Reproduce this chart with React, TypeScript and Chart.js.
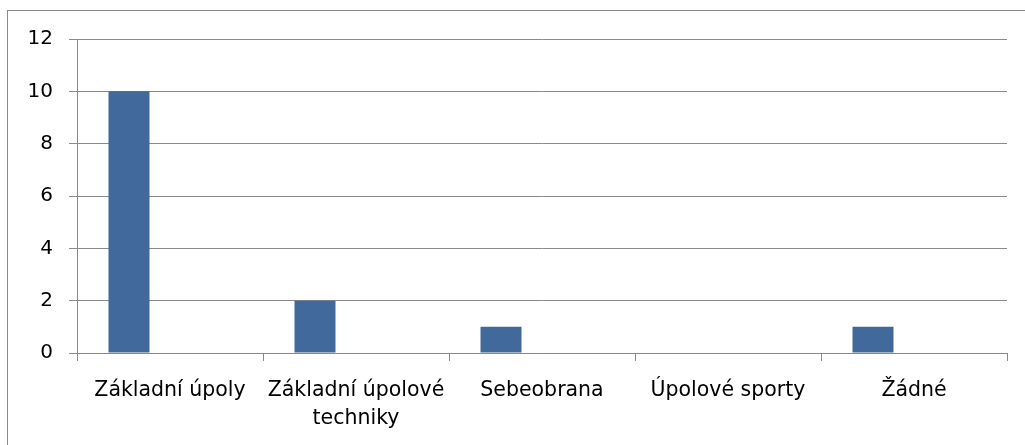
import { useEffect, useRef } from "react";
import { Chart, registerables } from "chart.js";

Chart.register(...registerables);

// Category labels along the x axis (second one wraps onto two lines)
const categories: (string | string[])[] = [
  "Základní úpoly",
  ["Základní úpolové", "techniky"],
  "Sebeobrana",
  "Úpolové sporty",
  "Žádné",
];

// Counts per category; the chart reserves three series slots, only the first is filled
const series1: number[] = [10, 2, 1, 0, 1];
const series2: (number | null)[] = [null, null, null, null, null];
const series3: (number | null)[] = [null, null, null, null, null];

// Value axis range
const yMin = 0;
const yMax = 12;
const yStep = 2;

const FONT = "'DejaVu Sans', 'Open Sans', sans-serif";
const BAR = "#41699c";
const GRID = "#8a8a8a";

// Thin grey frame around the whole chart object
const framePlugin = {
  id: "frame",
  beforeDraw(chart: Chart) {
    const ctx = chart.ctx;
    ctx.save();
    ctx.fillStyle = "#ffffff";
    ctx.fillRect(0, 0, chart.width, chart.height);
    ctx.strokeStyle = GRID;
    ctx.lineWidth = 1;
    ctx.strokeRect(7.5, 10.5, chart.width + 10, chart.height + 10);
    ctx.restore();
  },
};

export default function App() {
  const ref = useRef<HTMLCanvasElement | null>(null);

  useEffect(() => {
    if (!ref.current) return;
    const chart = new Chart(ref.current, {
      type: "bar",
      data: {
        labels: categories,
        datasets: [
          { label: "Řada 1", data: series1, backgroundColor: BAR, borderWidth: 0 },
          { label: "Řada 2", data: series2, backgroundColor: BAR, borderWidth: 0 },
          { label: "Řada 3", data: series3, backgroundColor: BAR, borderWidth: 0 },
        ],
      },
      options: {
        animation: false,
        responsive: false,
        maintainAspectRatio: false,
        layout: { padding: { left: 0, top: 39, right: 18, bottom: 0 } },
        datasets: {
          bar: { categoryPercentage: 0.6613, barPercentage: 1 },
        },
        plugins: {
          legend: { display: false },
          tooltip: { enabled: false },
        },
        scales: {
          x: {
            offset: true,
            grid: {
              offset: true,
              drawOnChartArea: false,
              drawTicks: true,
              tickLength: 8,
              color: GRID,
              lineWidth: 1,
            },
            border: { display: true, color: GRID, width: 1 },
            ticks: {
              autoSkip: false,
              maxRotation: 0,
              minRotation: 0,
              padding: 15,
              color: "#000000",
              font: { family: FONT, size: 20.5, lineHeight: 1.4 },
            },
            afterFit(scale: any) {
              scale.height = 92;
            },
          },
          y: {
            min: yMin,
            max: yMax,
            ticks: {
              stepSize: yStep,
              padding: 16,
              color: "#000000",
              font: { family: FONT, size: 20 },
            },
            grid: {
              color: GRID,
              lineWidth: 1,
              tickLength: 8,
              drawTicks: true,
            },
            border: { display: true, color: GRID, width: 1 },
            afterFit(scale: any) {
              scale.width = 77;
            },
          },
        },
      },
      plugins: [framePlugin],
    });
    return () => chart.destroy();
  }, []);

  return (
    <canvas
      ref={ref}
      width={1025}
      height={445}
      style={{ position: "fixed", left: 0, top: 0, width: 1025, height: 445, display: "block" }}
    />
  );
}
